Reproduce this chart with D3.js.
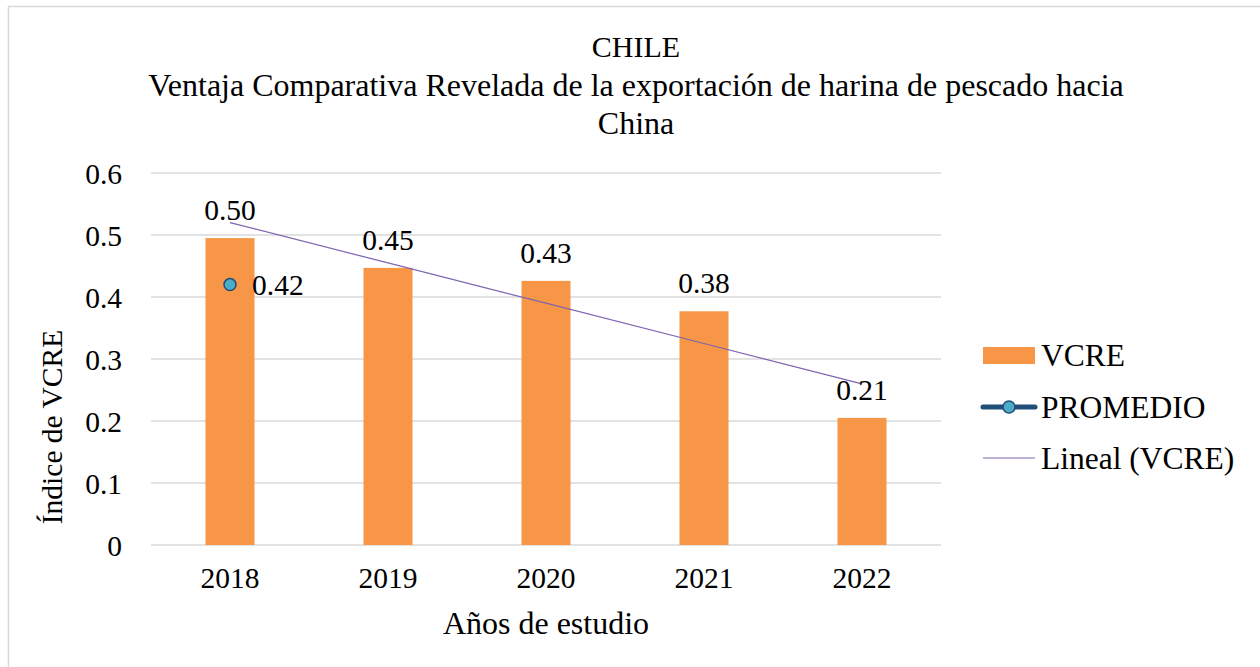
<!DOCTYPE html>
<html><head><meta charset="utf-8">
<script src="https://cdn.jsdelivr.net/npm/d3@7"></script>
</head><body style="margin:0;background:#fff">
<svg id="c" width="1260" height="667" font-family="Liberation Serif"></svg>
<script>
const categories = ["2018","2019","2020","2021","2022"];
const vcre = [0.495, 0.447, 0.426, 0.377, 0.205];
const vcreLabels = ["0.50","0.45","0.43","0.38","0.21"];
const promedio = [{cat:"2018", value:0.42, label:"0.42"}];
const yTicks = [0,0.1,0.2,0.3,0.4,0.5,0.6];
const yTickLabels = ["0","0.1","0.2","0.3","0.4","0.5","0.6"];
const titleLines = ["CHILE","Ventaja Comparativa Revelada de la exportación de harina de pescado hacia","China"];
const legendItems = ["VCRE","PROMEDIO","Lineal (VCRE)"];

const FF = "Liberation Serif";
const svg = d3.select("#c");
svg.append("rect").attr("x",8.5).attr("y",6.5).attr("width",1270).attr("height",680)
  .attr("fill","#fff").attr("stroke","#d9d9d9").attr("stroke-width",1.5);

const x = d3.scaleBand().domain(categories).range([151,941]).paddingInner(0).paddingOuter(0);
const y = d3.scaleLinear().domain([0,0.6]).range([545,173]);

svg.append("g").selectAll("line").data(yTicks).join("line")
  .attr("x1",151).attr("x2",941).attr("y1",d=>y(d)).attr("y2",d=>y(d))
  .attr("stroke","#d9d9d9").attr("stroke-width",1.5);

const yAxis = d3.axisLeft(y).tickValues(yTicks).tickFormat((d,i)=>yTickLabels[i]).tickSize(0).tickPadding(29);
const ya = svg.append("g").attr("transform","translate(151,0)").call(yAxis).attr("font-family",FF).attr("font-size",29.5);
ya.select(".domain").remove();
ya.selectAll("text").attr("font-size",29.5).attr("font-family",FF).attr("fill","#000").attr("dy","0.34em");

const xAxis = d3.axisBottom(x).tickSize(0).tickPadding(22);
const xa = svg.append("g").attr("transform","translate(0,545)").call(xAxis).attr("font-family",FF).attr("font-size",29.5);
xa.select(".domain").remove();
xa.selectAll("text").attr("font-size",29.5).attr("font-family",FF).attr("fill","#000");

const bw = 49;
svg.append("g").selectAll("rect").data(vcre).join("rect")
  .attr("x",(d,i)=>x(categories[i])+x.bandwidth()/2-bw/2)
  .attr("width",bw)
  .attr("y",d=>y(d)).attr("height",d=>y(0)-y(d))
  .attr("fill","#F79646");

const xs = vcre.map((d,i)=>i+1);
const mx = d3.mean(xs), my = d3.mean(vcre);
const slope = d3.sum(xs.map((xi,i)=>(xi-mx)*(vcre[i]-my)))/d3.sum(xs.map(xi=>(xi-mx)*(xi-mx)));
const icpt = my - slope*mx;
const trend = categories.map((c,i)=>({cat:c, v:icpt+slope*(i+1)}));
svg.append("path").datum(trend)
  .attr("d", d3.line().x(d=>x(d.cat)+x.bandwidth()/2).y(d=>y(d.v)))
  .attr("fill","none").attr("stroke","#7F64B1").attr("stroke-width",1.2);

svg.append("g").selectAll("text").data(vcre).join("text")
  .attr("x",(d,i)=>x(categories[i])+x.bandwidth()/2)
  .attr("y",d=>y(d)-18)
  .attr("text-anchor","middle").attr("font-size",29.5).attr("font-family",FF).attr("fill","#000")
  .text((d,i)=>vcreLabels[i]);

const pg = svg.append("g");
pg.selectAll("circle").data(promedio).join("circle")
  .attr("cx",d=>x(d.cat)+x.bandwidth()/2).attr("cy",d=>y(d.value)).attr("r",6)
  .attr("fill","#4BACC6").attr("stroke","#1F4E79").attr("stroke-width",1.5);
pg.selectAll("text").data(promedio).join("text")
  .attr("x",d=>x(d.cat)+x.bandwidth()/2+22).attr("y",d=>y(d.value)+10)
  .attr("font-size",29.5).attr("font-family",FF).attr("fill","#000").text(d=>d.label);

const titleSizes = [30,32,32];
const titleBase = [57,96,134];
svg.append("g").selectAll("text").data(titleLines).join("text")
  .attr("x",636).attr("y",(d,i)=>titleBase[i])
  .attr("text-anchor","middle").attr("font-size",(d,i)=>titleSizes[i]).attr("font-family",FF).attr("fill","#000").text(d=>d);

svg.append("text").attr("transform","translate(62,427) rotate(-90)")
  .attr("text-anchor","middle").attr("font-size",29.5).attr("font-family",FF).attr("fill","#000").text("Índice de VCRE");
svg.append("text").attr("x",546).attr("y",634)
  .attr("text-anchor","middle").attr("font-size",32).attr("font-family",FF).attr("fill","#000").text("Años de estudio");

const lg = svg.append("g");
const ly = [355,407,458];
lg.append("rect").attr("x",983).attr("y",ly[0]-8).attr("width",52).attr("height",17).attr("fill","#F79646");
lg.append("line").attr("x1",983).attr("x2",1035).attr("y1",ly[1]).attr("y2",ly[1])
  .attr("stroke","#1F4E79").attr("stroke-width",5).attr("stroke-linecap","round");
lg.append("circle").attr("cx",1009).attr("cy",ly[1]).attr("r",6)
  .attr("fill","#4BACC6").attr("stroke","#1F4E79").attr("stroke-width",1.5);
lg.append("line").attr("x1",983).attr("x2",1035).attr("y1",ly[2]).attr("y2",ly[2])
  .attr("stroke","#7F64B1").attr("stroke-width",1.2);
lg.selectAll("text").data(legendItems).join("text")
  .attr("x",1041).attr("y",(d,i)=>ly[i]+11)
  .attr("font-size",31.5).attr("font-family",FF).attr("fill","#000").text(d=>d);
</script>
</body></html>
